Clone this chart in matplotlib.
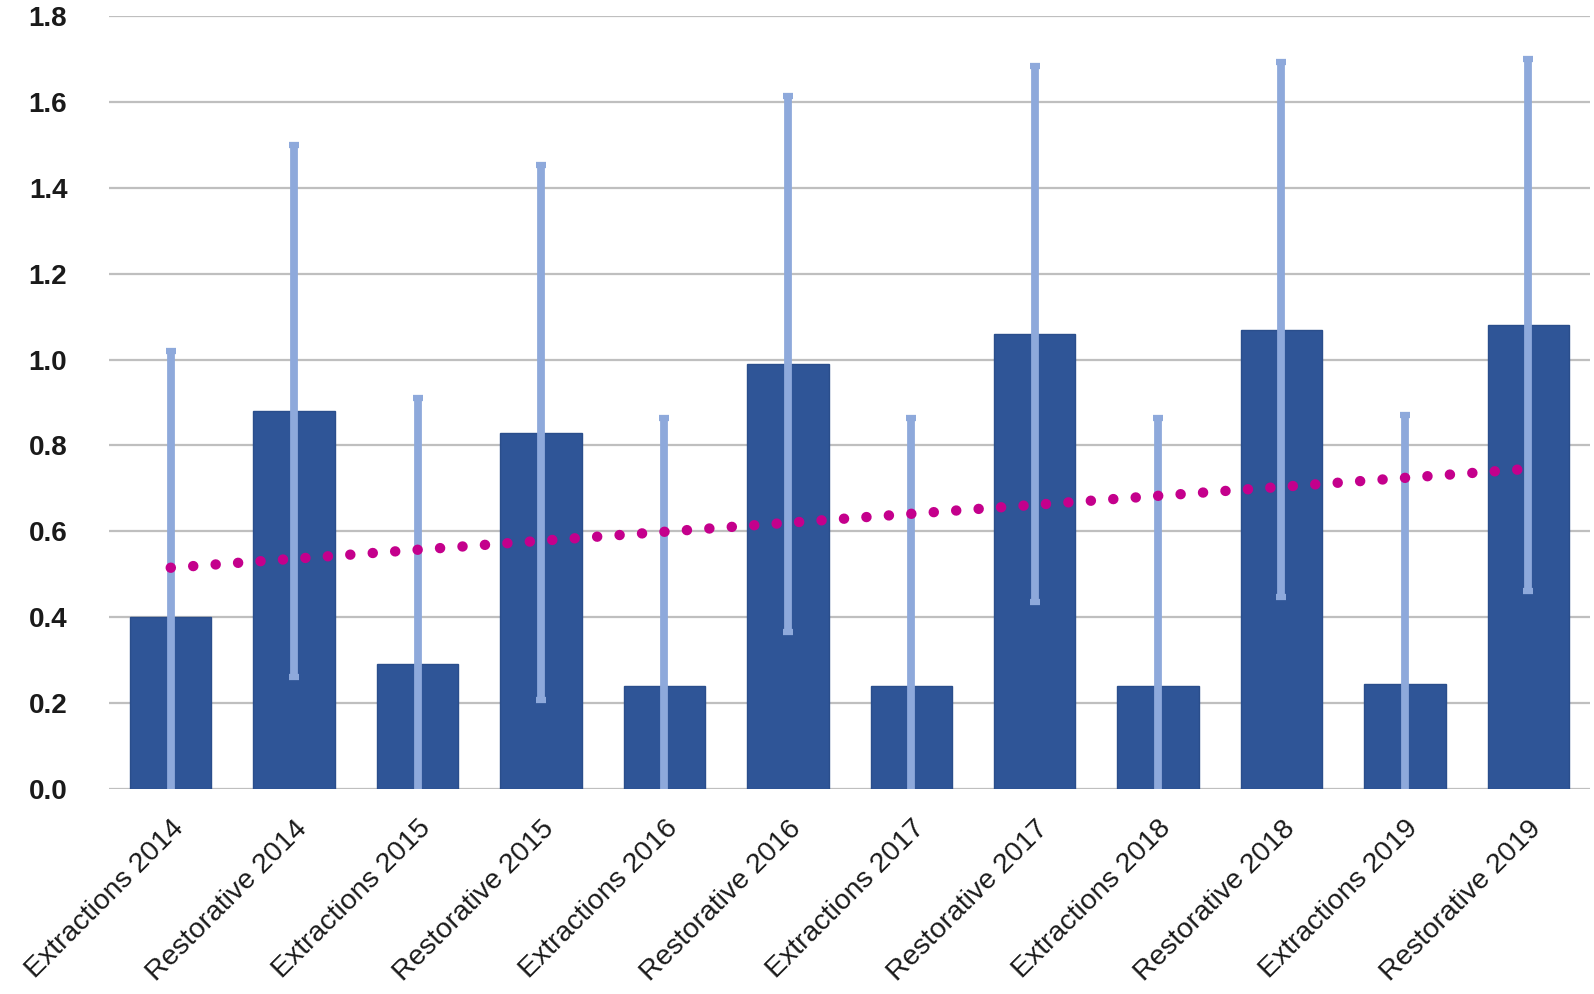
import matplotlib.pyplot as plt
import numpy as np

categories = ['Extractions 2014', 'Restorative 2014', 'Extractions 2015', 'Restorative 2015',
              'Extractions 2016', 'Restorative 2016', 'Extractions 2017', 'Restorative 2017',
              'Extractions 2018', 'Restorative 2018', 'Extractions 2019', 'Restorative 2019']
means = [0.40, 0.88, 0.29, 0.83, 0.24, 0.99, 0.24, 1.06, 0.24, 1.07, 0.245, 1.08]
errors = [0.62, 0.62, 0.62, 0.623, 0.625, 0.624, 0.624, 0.624, 0.624, 0.622, 0.625, 0.62]
yticks = [0.0, 0.2, 0.4, 0.6, 0.8, 1.0, 1.2, 1.4, 1.6, 1.8]

fig = plt.figure(figsize=(15.94, 9.94), dpi=100)
ax = fig.add_axes([0.0684, 0.2062, 0.9291, 0.7777])

pos = np.arange(1, len(categories) + 1)

# bars with error bars
ax.bar(pos, means, width=0.66, color='#2F5597', edgecolor='#2A4E8C', linewidth=1, zorder=2)
ax.errorbar(pos, means, yerr=errors, fmt='none', ecolor='#8EA9DB', elinewidth=5.6,
            capsize=3.8, capthick=4.5, zorder=3)

# linear trendline through the bar values
coef = np.polyfit(pos, means, 1)
tx = np.array([pos[0], pos[-1]])
ax.plot(tx, np.polyval(coef, tx), color='#C4008C', linewidth=7.5, linestyle=(0, (0.01, 2.15)),
        dash_capstyle='round', zorder=4)

ax.set_xlim(0.5, len(categories) + 0.5)
ax.set_ylim(0, 1.8)
ax.set_yticks(yticks)
ax.set_yticklabels(['%.1f' % v for v in yticks], fontsize=20, fontweight='bold',
                   family='Liberation Sans', color='#1A1A1A')
ax.set_xticks(pos)
ax.set_xticklabels(categories, rotation=45, ha='right', rotation_mode='anchor',
                   fontsize=20.5, family='Liberation Sans', color='#1A1A1A')
ax.tick_params(axis='both', length=0)
ax.tick_params(axis='y', pad=30)
ax.tick_params(axis='x', pad=19)

ax.grid(axis='y', color='#BFBFBF', linewidth=1.6, zorder=0)
ax.set_axisbelow(True)
for s in ax.spines.values():
    s.set_visible(False)

plt.savefig('out.png', dpi=100)
